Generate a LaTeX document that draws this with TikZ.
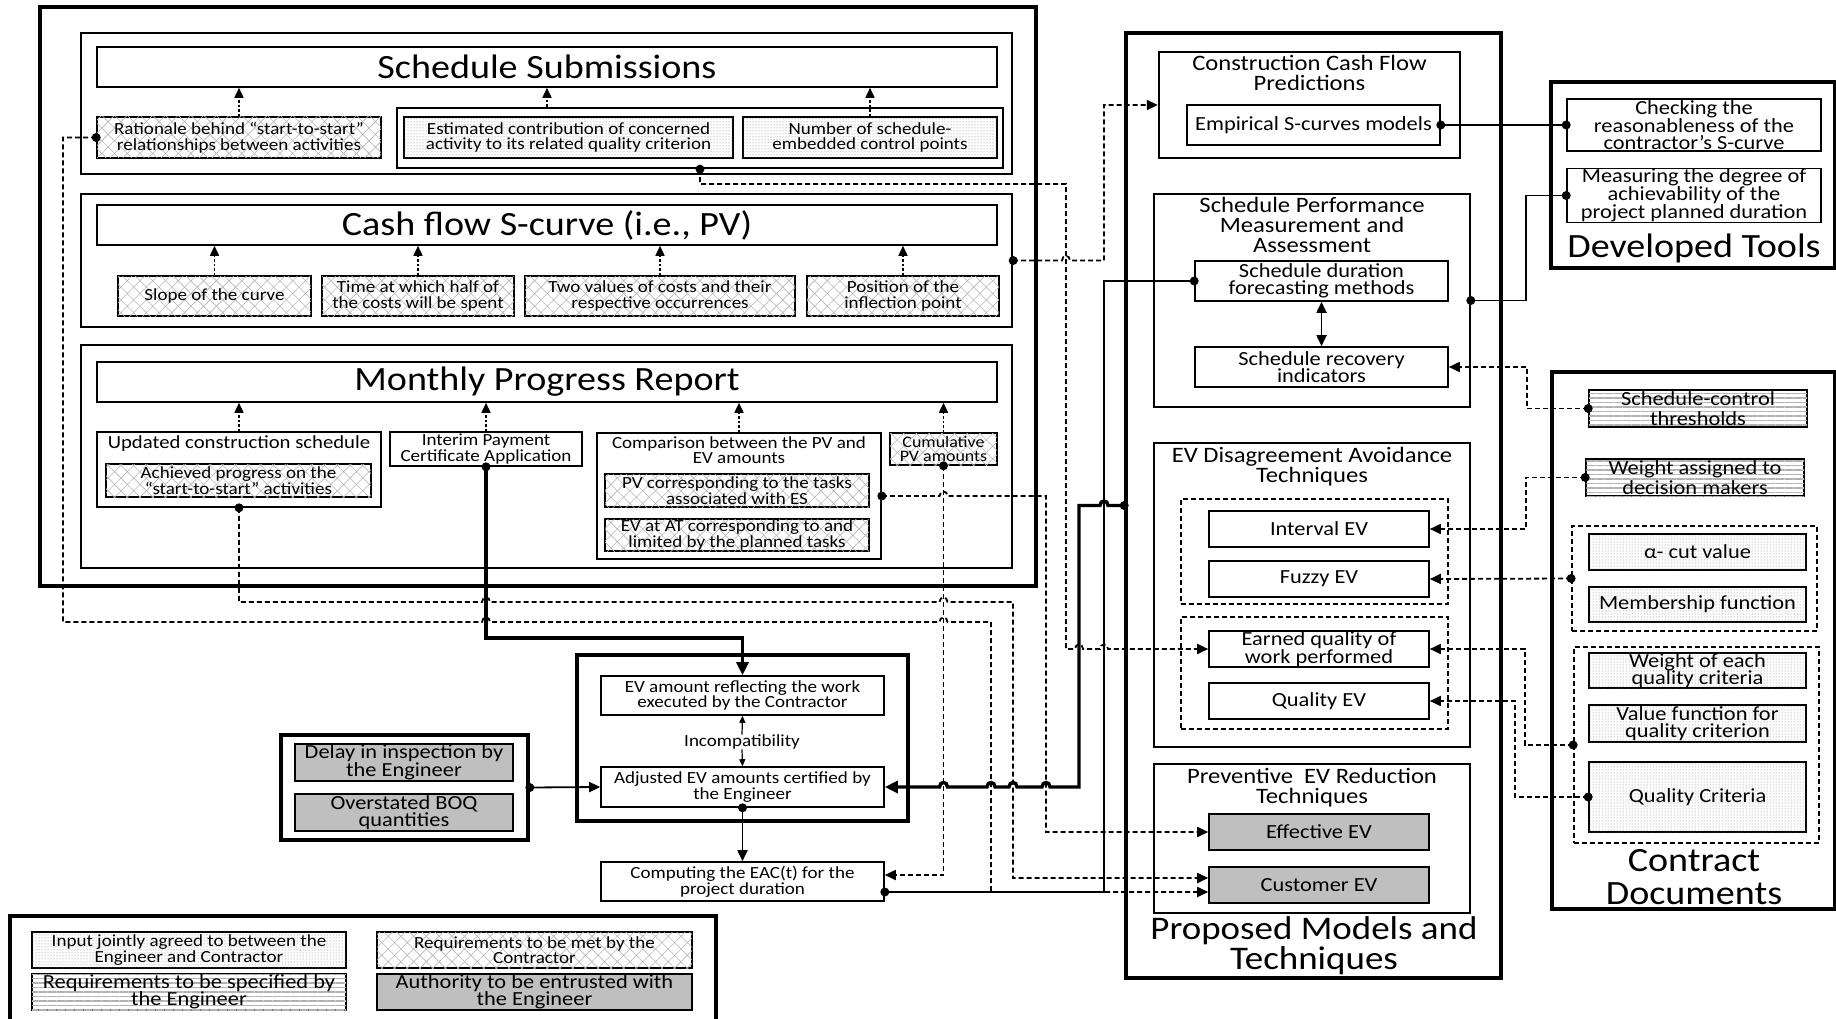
\documentclass[tikz,border=0pt]{standalone}
\usepackage{fontspec}
\setmainfont{Carlito}[FakeStretch=1.12]
\usetikzlibrary{arrows.meta, calc, positioning, patterns.meta}

\newcommand{\txttitle}{\fontsize{34}{32.5}\selectfont}
\newcommand{\txtlarge}{\fontsize{22}{20}\selectfont}
\newcommand{\txtmid}{\fontsize{20}{17.5}\selectfont}
\newcommand{\txtsmall}{\fontsize{17}{15.5}\selectfont}
\newcommand{\txttiny}{\fontsize{16}{14.5}\selectfont}

% small bump where a line jumps over another one
\newcommand{\hopr}[2]{-- (#1-4,#2) .. controls (#1-4,#2-6) and (#1+4,#2-6) .. (#1+4,#2)}
\newcommand{\hopl}[2]{-- (#1+4,#2) .. controls (#1+4,#2-6) and (#1-4,#2-6) .. (#1-4,#2)}

\tikzset{
  wh/.style 2 args={minimum width=#1, minimum height=#2},
  plainbox/.style={draw, line width=1.6pt, fill=white, align=center, inner sep=0pt},
  panelbox/.style={draw, line width=2.4pt, fill=white},
  outerframe/.style={draw, line width=3.6pt, fill=white},
  hatchbox/.style={plainbox, postaction={pattern color=black!28, pattern={Hatch[angle=45, distance=9pt, line width=0.6pt]}}},
  dotbox/.style={plainbox, postaction={pattern color=black!50, pattern={Dots[distance=3pt, radius=0.5pt]}}},
  stripebox/.style={plainbox, postaction={pattern color=black!30, pattern={Lines[angle=0, distance=4.5pt, line width=1.8pt]}}},
  greybox/.style={plainbox, fill=black!25},
  dashgrp/.style={draw, line width=1.8pt, dash pattern=on 5pt off 3pt},
  captxt/.style={align=center, inner sep=0pt},
  riser/.style={line width=1.6pt, dash pattern=on 2.5pt off 2pt, -{Triangle[length=10pt, width=9pt]}},
  dashlink/.style={line width=1.8pt, dash pattern=on 5pt off 3pt, -{Triangle[length=11pt, width=10pt]}},
  solidlink/.style={line width=1.8pt},
  thicklink/.style={line width=3.4pt, -{Triangle[length=13pt, width=12pt]}}
}

\begin{document}
\begin{tikzpicture}[x=1pt, y=-1pt]
\useasboundingbox (0,0) rectangle (1836,1019);

% submissions by the contractor
\node[outerframe, wh={996}{579}] (subframe) at (538,296.5) {};

\node[panelbox, wh={931}{141}] (schedpanel) at (546.5,103.5) {};
\node[plainbox, wh={900}{40}, font=\txttitle] (schedhead) at (547,67) {Schedule Submissions};
\node[hatchbox, wh={284}{41}, font=\txtsmall] (rationale) at (239,137.5) {Rationale behind “start-to-start”\\relationships between activities};
\node[panelbox, wh={606}{60}] (qualgrp) at (700,138) {};
\node[dotbox, wh={329}{41}, font=\txtsmall] (contrib) at (568.5,137.5) {Estimated contribution of concerned\\activity to its related quality criterion};
\node[dotbox, wh={254}{41}, font=\txtsmall] (ctrlpts) at (870,137.5) {Number of schedule-\\embedded control points};

\node[panelbox, wh={931}{133}] (cashpanel) at (546.5,260.5) {};
\node[plainbox, wh={900}{40}, font=\txttitle] (cashhead) at (547,225) {Cash flow S-curve (i.e., PV)};
\node[hatchbox, wh={193}{40}, font=\txtsmall] (slope) at (214.5,296) {Slope of the curve};
\node[hatchbox, wh={192}{40}, font=\txtsmall] (halfcost) at (418,296) {Time at which half of\\the costs will be spent};
\node[hatchbox, wh={270}{40}, font=\txtsmall] (twovals) at (660,296) {Two values of costs and their\\respective occurrences};
\node[hatchbox, wh={192}{40}, font=\txtsmall] (inflect) at (903,296) {Position of the\\inflection point};

\node[panelbox, wh={931}{223}] (mprpanel) at (546.5,456.5) {};
\node[plainbox, wh={900}{40}, font=\txttitle] (mprhead) at (547,382) {Monthly Progress Report};
\node[plainbox, wh={284}{75}] (updated) at (239,469.5) {};
\node[captxt, font=\fontsize{18.5}{16}\selectfont, below=4pt of updated.north] (updatedtxt) {Updated construction schedule};
\node[hatchbox, wh={265}{33}, font=\txtsmall] (achieved) at (238.5,480.5) {Achieved progress on the\\“start-to-start” activities};
\node[plainbox, wh={192}{34}, font=\txtsmall] (interim) at (486,449) {Interim Payment\\Certificate Application};
\node[plainbox, wh={284}{126}] (compare) at (739,496) {};
\node[captxt, font=\fontsize{17}{15}\selectfont, below=4pt of compare.north] (comparetxt) {Comparison between the PV and\\EV amounts};
\node[hatchbox, wh={264}{33}, font=\txtsmall] (pvtasks) at (737,490.5) {PV corresponding to the tasks\\associated with ES};
\node[hatchbox, wh={264}{32}, font=\txtsmall] (evatat) at (737,535) {EV at AT corresponding to and\\limited by the planned tasks};
\node[hatchbox, wh={107}{32}, font=\txttiny] (cumpv) at (943.5,449) {Cumulative\\PV amounts};

% earned value certification
\node[outerframe, wh={331}{166}] (evgrp) at (742.5,738) {};
\node[plainbox, wh={283}{39}, font=\txtsmall] (evwork) at (742.5,695.5) {EV amount reflecting the work\\executed by the Contractor};
\node[captxt, font=\txtsmall] (incomp) at (742,742) {Incompatibility};
\node[plainbox, wh={283}{40}, font=\txtsmall] (evadj) at (742.5,787) {Adjusted EV amounts certified by\\the Engineer};
\node[plainbox, wh={283}{39}, font=\txtsmall] (eact) at (742.5,881.5) {Computing the EAC(t) for the\\project duration};
\node[outerframe, wh={247}{105}] (delaygrp) at (404.5,787.5) {};
\node[greybox, wh={218}{37}, font=\txtmid] (delay) at (404,762.5) {Delay in inspection by\\the Engineer};
\node[greybox, wh={218}{37}, font=\txtmid] (boq) at (404,812.5) {Overstated BOQ\\quantities};

% key
\node[outerframe, wh={706}{108}] (keyframe) at (363,970) {};
\node[dotbox, wh={314}{36}, font=\txtsmall] (keyjoint) at (189,950) {Input jointly agreed to between the\\Engineer and Contractor};
\node[stripebox, wh={314}{36}, font=\txtmid] (keyspec) at (189,992) {Requirements to be specified by\\the Engineer};
\node[hatchbox, wh={315}{36}, font=\txtsmall] (keymet) at (534.5,950) {Requirements to be met by the\\Contractor};
\node[greybox, wh={315}{36}, font=\txtmid] (keyauth) at (534.5,992) {Authority to be entrusted with\\the Engineer};

% proposed models and techniques
\node[outerframe, wh={375}{945}] (propframe) at (1313.5,505.5) {};
\node[captxt, font=\fontsize{33}{30}\selectfont] (proptxt) at (1314,946) {Proposed Models and\\Techniques};

\node[panelbox, wh={301}{106}] (ccfp) at (1309.5,105) {};
\node[captxt, font=\txtlarge, below=4pt of ccfp.north] (ccfptxt) {Construction Cash Flow\\Predictions};
\node[plainbox, wh={253}{40}, font=\txtmid] (empirical) at (1313.5,125) {Empirical S-curves models};

\node[plainbox, wh={316}{213}] (spma) at (1312,300.5) {};
\node[captxt, font=\txtlarge, below=4pt of spma.north] (spmatxt) {Schedule Performance\\Measurement and\\Assessment};
\node[plainbox, wh={253}{40}, font=\txtmid] (sdur) at (1321.5,281) {Schedule duration\\forecasting methods};
\node[plainbox, wh={253}{40}, font=\txtmid] (srec) at (1321.5,367) {Schedule recovery\\indicators};

\node[plainbox, wh={316}{304}] (evdat) at (1312,595) {};
\node[captxt, font=\txtlarge, below=5pt of evdat.north] (evdattxt) {EV Disagreement Avoidance\\Techniques};
\node[dashgrp, wh={267}{105}] (dagrp) at (1314.5,551.5) {};
\node[plainbox, wh={220}{36}, font=\txtmid] (intev) at (1319,529) {Interval EV};
\node[plainbox, wh={220}{36}, font=\txtmid] (fuzev) at (1319,579) {Fuzzy EV};
\node[dashgrp, wh={267}{112}] (eqgrp) at (1314.5,673) {};
\node[plainbox, wh={220}{36}, font=\txtmid] (eqwp) at (1319,649) {Earned quality of\\work performed};
\node[plainbox, wh={220}{36}, font=\txtmid] (qualev) at (1319,701) {Quality EV};

\node[plainbox, wh={316}{149}] (prevbox) at (1312,838.5) {};
\node[captxt, font=\txtlarge, below=5pt of prevbox.north] (prevtxt) {Preventive\ \ EV Reduction\\Techniques};
\node[greybox, wh={220}{36}, font=\txtmid] (effev) at (1319,832) {Effective EV};
\node[greybox, wh={220}{36}, font=\txtmid] (custev) at (1319,885) {Customer EV};

% developed tools
\node[outerframe, wh={284}{186}] (toolframe) at (1693,175) {};
\node[plainbox, wh={254}{52}, font=\fontsize{20}{16.5}\selectfont] (checking) at (1694,125) {Checking the\\reasonableness of the\\contractor’s S-curve};
\node[plainbox, wh={254}{53}, font=\fontsize{20}{16.5}\selectfont] (measuring) at (1694,195.5) {Measuring the degree of\\achievability of the\\project planned duration};
\node[captxt, font=\txttitle] (tooltxt) at (1694,248) {Developed Tools};

% contract documents
\node[outerframe, wh={283}{537}] (docframe) at (1693.5,640.5) {};
\node[stripebox, wh={218}{37}, font=\fontsize{20}{20}\selectfont] (schedctl) at (1698,408.5) {Schedule-control\\thresholds};
\node[stripebox, wh={218}{37}, font=\fontsize{20}{20}\selectfont] (weightdm) at (1695,477.5) {Weight assigned to\\decision makers};
\node[dashgrp, wh={245}{105}] (fuzzgrp) at (1694.5,578.5) {};
\node[dotbox, wh={217}{36}, font=\txtmid] (alphacut) at (1697.5,552) {α- cut value};
\node[dotbox, wh={217}{35}, font=\txtmid] (member) at (1697.5,604.5) {Membership function};
\node[dashgrp, wh={245}{196}] (critgrp) at (1696.5,745) {};
\node[dotbox, wh={217}{35}, font=\txtmid] (weightqc) at (1697.5,670.5) {Weight of each\\quality criteria};
\node[dotbox, wh={217}{37}, font=\txtmid] (valuefn) at (1697.5,723.5) {Value function for\\quality criterion};
\node[dotbox, wh={217}{70}, font=\txtmid] (qcrit) at (1697.5,797) {Quality Criteria};
\node[captxt, font=\txttitle] (doctxt) at (1694,877) {Contract\\Documents};

% inputs feeding each document
\draw[riser] (rationale.north) -- (rationale.north |- schedhead.south);
\draw[riser] (qualgrp.north -| schedhead.south) -- (schedhead.south);
\draw[riser] (ctrlpts.north) -- (ctrlpts.north |- schedhead.south);
\foreach \n in {slope, halfcost, twovals, inflect}
  \draw[riser] (\n.north) -- (\n.north |- cashhead.south);
\foreach \n in {updated, interim, compare, cumpv}
  \draw[riser] (\n.north) -- (\n.north |- mprhead.south);

% free ends
\coordinate (eacin) at ($(eact.east)+(0,-6.5)$);
\coordinate (eacout) at ($(eact.east)+(0,10.5)$);
\coordinate (custin1) at ($(custev.west)+(0,-7)$);
\coordinate (custin2) at ($(custev.west)+(0,7)$);

% dashed links
\draw[dashlink] (rationale.west) -| (63,622) \hopr{486}{622} \hopr{943.5}{622} -- (991,622) -- (991,892) -- (custin2);
\draw[dashlink] (updated.south) -- (239,602) \hopr{486}{602} \hopr{943.5}{602} -- (1013,602) -- (1013,878) -- (custin1);
\draw[dashlink] (compare.east) \hopr{943.5}{496} -- (1046,496) |- (effev.west);
\draw[dashlink] (cumpv.south) |- (eacin);
\draw[dashlink] (qualgrp.south) |- (1066,184) -- (1066,649) \hopr{1079}{649} \hopr{1104}{649} -- (eqwp.west);
\draw[dashlink] (cashpanel.east) \hopr{1066}{260.5} -- (1104,260.5) |- (ccfp.west);
\draw[dashlink] (schedctl.west) -- (1527,408.5) |- (srec.east);
\draw[dashlink] (weightdm.west) -- (1526,477.5) |- (intev.east);
\draw[dashlink] (fuzzgrp.west) -- (fuzev.east);
\draw[dashlink] (critgrp.west) -- (1525,745) |- (eqwp.east);
\draw[dashlink] (qcrit.west) -- (1515,797) |- (qualev.east);

% solid links
\draw[solidlink] (sdur.west) -| (1104,892) -- (eacout);
\draw[solidlink] (empirical.east) -- (checking.west);
\draw[solidlink] (spma.east) -- (1526,300.5) |- (measuring.west);
\draw[solidlink, <->, >={Triangle[length=11pt, width=10pt]}] (sdur.south) -- (srec.north);
\draw[solidlink, -{Triangle[length=11pt, width=10pt]}] (delaygrp.east) -- (evadj.west);
\draw[solidlink, -{Triangle[length=11pt, width=10pt]}] (evadj.south) -- (eact.north);
\draw[line width=1.2pt, -{Triangle[length=7pt, width=6pt]}] (incomp.north) -- (evwork.south);
\draw[line width=1.2pt, -{Triangle[length=7pt, width=6pt]}] (incomp.south) -- (evadj.north);

% thick links
\draw[thicklink] (interim.south) -- (486,638) -| (evwork.north);
\draw[thicklink] (propframe.west) \hopl{1104}{505.5} -- (1079,505.5) -- (1079,787) \hopl{1046}{787} \hopl{1013}{787} \hopl{991}{787} \hopl{943.5}{787} -- (evadj.east);

% junction dots
\foreach \p in {rationale.west, qualgrp.south, cashpanel.east, updated.south, interim.south,
    compare.east, cumpv.south, propframe.west, sdur.west, eacout, empirical.east, checking.west,
    spma.east, measuring.west, schedctl.west, weightdm.west, fuzzgrp.west, critgrp.west,
    qcrit.west, delaygrp.east, evadj.south}
  \fill (\p) circle[radius=4.5pt];
\end{tikzpicture}
\end{document}
